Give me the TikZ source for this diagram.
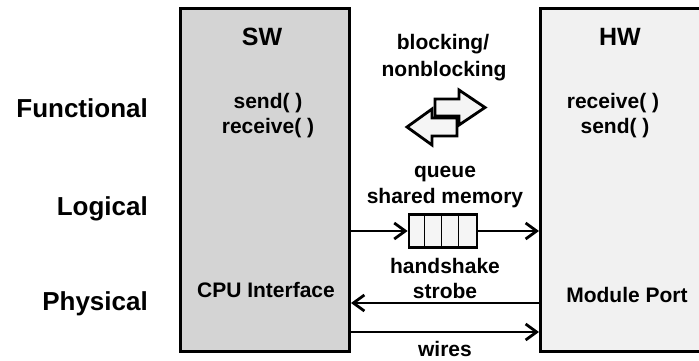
\documentclass[tikz,border=0pt]{standalone}
\usepackage{fontspec}
\setmainfont{Liberation Sans}
\usetikzlibrary{arrows.meta}

\definecolor{swgray}{RGB}{212,212,212}
\definecolor{hwgray}{RGB}{241,241,241}
\definecolor{pale}{RGB}{245,245,245}

\tikzset{
  block/.style={draw=black, line width=3pt, inner sep=0pt, anchor=north west},
  title/.style={font=\fontsize{25}{30}\selectfont\bfseries, inner sep=0pt, anchor=base},
  txt/.style={font=\fontsize{21}{25}\selectfont\bfseries, inner sep=0pt, anchor=base},
  level/.style={font=\fontsize{26}{31}\selectfont\bfseries, inner sep=0pt, anchor=base east},
  conn/.style={line width=2.8pt, -{Straight Barb[length=11pt,width=16pt,line width=2.8pt]}},
  hollow/.style={draw=black, line width=2.8pt, fill=pale, line join=miter},
}

\begin{document}
\begin{tikzpicture}[x=1pt,y=-1pt]
\useasboundingbox (0,0) rectangle (699,360);
\clip (0,0) rectangle (699,360);

% the two sides
\node[block, fill=swgray, minimum width=169pt, minimum height=343pt] (sw) at (179,7) {};
\node[block, fill=hwgray, minimum width=200pt, minimum height=343pt] (hw) at (539,7) {};

% abstraction levels
\node[level] (functional) at (148,117) {Functional};
\node[level] (logical)    at (148,215) {Logical};
\node[level] (physical)   at (148,310) {Physical};

% software side texts
\node[title] (swtitle) at (262,45) {SW};
\node[txt] (swsend) at (268,108) {send( )};
\node[txt] (swrecv) at (268,133) {receive( )};
\node[txt] (cpu) at (266,297) {CPU Interface};

% hardware side texts
\node[title] (hwtitle) at (620,45) {HW};
\node[txt] (hwrecv) at (613,108) {receive( )};
\node[txt] (hwsend) at (615,133) {send( )};
\node[txt] (port) at (627,302) {Module Port};

% channel texts
\node[txt] (blk) at (443,49) {blocking/};
\node[txt] (nonblk) at (444,76) {nonblocking};
\node[txt] (queue) at (445,177) {queue};
\node[txt] (shmem) at (445,203) {shared memory};
\node[txt] (hshake) at (445,273) {handshake};
\node[txt] (strobe) at (445,298) {strobe};
\node[txt] (wires) at (445,356) {wires};

% blocking / nonblocking exchange symbol
\draw[hollow] (435,99) -- (459,99) -- (459,90) -- (485,107.5) -- (459,125) -- (459,116) -- (435,116) -- cycle;
\draw[hollow] (457,118) -- (432,118) -- (432,109) -- (407,127) -- (432,145) -- (432,136) -- (457,136) -- cycle;

% queue between the two sides
\node[draw=black, line width=2.8pt, fill=pale, minimum width=68pt, minimum height=33pt, inner sep=0pt] (q) at (443,231) {};
\foreach \k in {1,2,3}
  \draw[line width=1.4pt] ([xshift=17*\k pt]q.north west) -- ([xshift=17*\k pt]q.south west);

\draw[conn] (sw.east |- q.west) -- (q.west);
\draw[conn] (q.east) -- (q.east -| hw.west);

% physical signals
\coordinate (hsy) at (0,303);
\coordinate (wy) at (0,332);
\draw[conn] (hw.west |- hsy) -- (sw.east |- hsy);
\draw[conn] (sw.east |- wy) -- (hw.west |- wy);
\end{tikzpicture}
\end{document}
